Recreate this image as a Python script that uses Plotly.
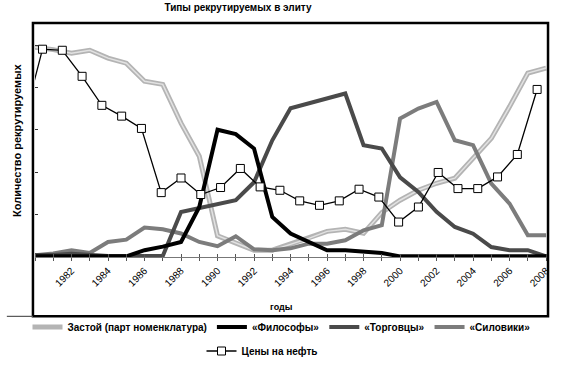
import plotly.graph_objects as go

years = list(range(1980, 2009))
zastoy = [99, 97.9, 96.2, 97.6, 93.9, 91.5, 83, 81.5, 63.2, 47.6, 10, 6.5, 3.2, 3.2, 6,
          8.8, 12.1, 13.1, 11.2, 21, 26.8, 31.5, 34.8, 37.2, 46.6, 56, 71, 86.8, 89.2]
filosofy = [0.3, 0.3, 0.3, 0.3, 0.3, 0.3, 3.2, 4.9, 7.1, 23.6, 60.1, 58, 51.2, 18.9, 11.1,
            7.1, 3.2, 3.2, 2.4, 1.9, 0.3, 0.3, 0.3, 0.3, 0.3, 0.3, 0.3, 0.3, 0.3]
torgovtsy = [1, 1, 1.5, 1, 0.5, 0.5, 0.5, 0.5, 21.2, 23, 24.9, 26.8, 35.3, 55.1, 70.2,
             72.6, 75, 77.2, 52.8, 51.2, 37.6, 30.7, 21.3, 14.2, 11, 4.7, 3.2, 3.2, 0.3]
siloviki = [0.8, 1.7, 3.2, 1.9, 7.1, 8.2, 13.9, 13.1, 11.1, 7.1, 5.1, 9.8, 3.6, 3.2, 4.1,
            6.3, 6.3, 7.9, 12.6, 15, 65.4, 70.1, 73.2, 55.1, 52.8, 34.7, 25.2, 10.3, 10.3]
oil_points = list(range(27))
oil = [62, 98.1, 97.6, 85.3, 71.6, 66.5, 60.7, 30.4, 37.3, 29.5, 32.8, 41.8, 33.1, 31.5,
       26.5, 24.4, 26.5, 32.0, 28.3, 16.5, 23.6, 39.9, 32.3, 32.3, 37.8, 48.4, 79.1]
tick_years = list(range(1980, 2009))
tick_labels = [str(y) if (y % 2 == 0 and y >= 1982) else "" for y in tick_years]

FONT = "Liberation Sans, Arial, sans-serif"

fig = go.Figure()
fig.add_trace(go.Scatter(x=years, y=zastoy, mode="lines", name="<b>Застой (парт номенклатура)</b>",
                         line=dict(color="#b4b4b4", width=5), legend="legend", legendrank=1))
fig.add_trace(go.Scatter(x=years, y=zastoy, mode="lines", showlegend=False, hoverinfo="skip",
                         line=dict(color="#e2e2e2", width=1.5)))
fig.add_trace(go.Scatter(x=years, y=siloviki, mode="lines", name="<b>«Силовики»</b>",
                         line=dict(color="#7c7c7c", width=4), legend="legend", legendrank=4))
fig.add_trace(go.Scatter(x=years, y=torgovtsy, mode="lines", name="<b>«Торговцы»</b>",
                         line=dict(color="#4a4a4a", width=4), legend="legend", legendrank=3))
fig.add_trace(go.Scatter(x=years, y=filosofy, mode="lines", name="<b>«Философы»</b>",
                         line=dict(color="#000000", width=4), legend="legend", legendrank=2))
fig.add_trace(go.Scatter(x=oil_points, y=oil, mode="lines+markers", name="<b>Цены на нефть</b>",
                         xaxis="x2", legend="legend2",
                         line=dict(color="#000000", width=1.3),
                         marker=dict(symbol="square", size=8, color="white",
                                     line=dict(color="black", width=1))))

fig.update_layout(
    width=563, height=367,
    margin=dict(l=35, r=13, t=24, b=110),
    paper_bgcolor="white", plot_bgcolor="white",
    font=dict(family=FONT, size=10, color="black"),
    title=dict(text="<b>Типы рекрутируемых в элиту</b>", x=238/563, xanchor="center",
               y=1 - 7/367, yanchor="middle", font=dict(size=10, family=FONT)),
    xaxis=dict(range=[1980, 2008.05], tickmode="array", tickvals=tick_years, ticktext=tick_labels,
               tickangle=-45, ticks="outside", ticklen=3, tickcolor="#555",
               showline=True, linecolor="#777", linewidth=1, showgrid=False, zeroline=False,
               tickfont=dict(size=10, family=FONT),
               minor=dict(ticks="inside", ticklen=3, dtick=1, tick0=1980, tickcolor="#555")),
    xaxis2=dict(range=[0.62, 26.5], overlaying="x", visible=False),
    yaxis=dict(range=[0, 110], tickvals=[0, 20, 40, 60, 80, 100], showticklabels=False,
               ticks="inside", ticklen=3, tickcolor="#333",
               showline=False, showgrid=False, zeroline=False),
    legend=dict(orientation="h", xref="container", yref="container", x=0.5, xanchor="center",
                y=1 - 327/367, yanchor="middle", font=dict(size=10, family=FONT),
                bgcolor="rgba(0,0,0,0)"),
    legend2=dict(orientation="h", xref="container", yref="container", x=262/563, xanchor="center",
                 y=1 - 351/367, yanchor="middle", font=dict(size=10, family=FONT),
                 bgcolor="rgba(0,0,0,0)"),
    showlegend=True,
)

# frame
fig.add_shape(type="rect", xref="paper", yref="paper",
              x0=-0.004, x1=1.002, y0=-0.2548, y1=1.004,
              line=dict(color="black", width=2.5), layer="above")
fig.add_shape(type="line", xref="paper", yref="paper", x0=-0.055, x1=-0.004,
              y0=-0.2548, y1=-0.2548, line=dict(color="#555", width=1.2))

fig.add_annotation(text="<b>Количество рекрутируемых</b>", textangle=-90,
                   xref="paper", yref="paper", x=(16.7 - 35) / 515, y=(256.7 - 140) / 232.7,
                   showarrow=False, font=dict(size=11, family=FONT), xanchor="center", yanchor="middle")
fig.add_annotation(text="<b>годы</b>", xref="paper", yref="paper",
                   x=(283 - 35) / 515, y=(256.7 - 307) / 232.7,
                   showarrow=False, font=dict(size=9, family=FONT), xanchor="center", yanchor="middle")

fig.write_html("out.html", post_script="document.body.style.margin='0';",
               config={"displayModeBar": False})
